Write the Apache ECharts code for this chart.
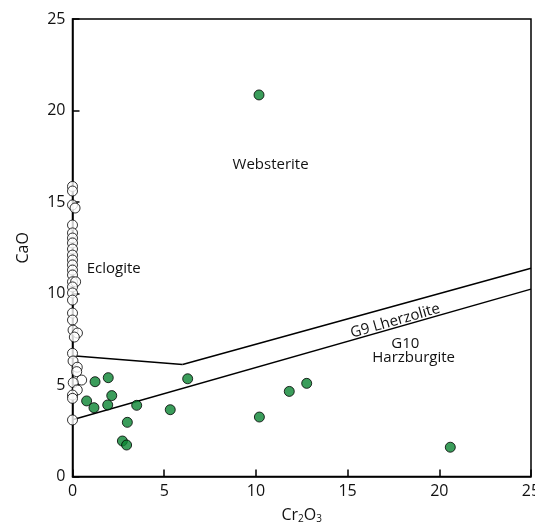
<!DOCTYPE html>
<html>
<head>
<meta charset="utf-8">
<script src="https://cdn.jsdelivr.net/npm/echarts@6/dist/echarts.min.js"></script>
<style>
  html, body { margin: 0; padding: 0; background: #fff; }
  #chart { width: 535px; height: 524px; }
</style>
</head>
<body>
<div id="chart"></div>
<script>
// eclogitic garnets (open circles): [Cr2O3, CaO]
const eclogite = [
  [0, 15.85], [0, 15.6], [0, 14.84], [0.14, 14.67], [0, 13.74], [0, 13.31],
  [0, 13.03], [0, 12.76], [0, 12.43], [0, 12.1], [0, 11.83], [0, 11.56],
  [0, 11.28], [0, 11.01], [0, 10.64], [0.17, 10.64], [0, 10.36], [0, 10.03],
  [0, 9.64], [0, 8.93], [0, 8.55], [0.03, 8.0], [0.27, 7.84], [0.1, 7.62],
  [0, 6.73], [0.03, 6.31], [0.26, 5.97], [0.23, 5.73], [0.5, 5.27], [0.04, 5.13],
  [0.26, 4.73], [0, 4.45], [0, 4.27], [0, 3.09]
]

// peridotitic garnets (green dots): [Cr2O3, CaO]
const peridotite = [
  [1.23, 5.18], [1.95, 5.4], [0.77, 4.13], [1.17, 3.76], [2.14, 4.42],
  [1.92, 3.91], [3.5, 3.89], [2.99, 2.96], [2.72, 1.94], [2.95, 1.72],
  [5.33, 3.65], [6.28, 5.34], [10.19, 3.25], [11.82, 4.65], [12.77, 5.09],
  [20.6, 1.6], [10.17, 20.85]
]

// field boundaries
const eclogiteLine = [[0, 6.6], [6, 6.12]]
const g9Line = [[6, 6.12], [25, 11.38]]
const g10Line = [[0, 3.1], [25, 10.24]]

const xTicks = [0, 5, 10, 15, 20, 25]
const yTicks = [0, 5, 10, 15, 20, 25]

const FONT = 'Open Sans'
const INK = '#111'
const chart = echarts.init(document.getElementById('chart'))

const boundary = (data) => ({
  type: 'line',
  data: data,
  symbol: 'none',
  silent: true,
  z: 1,
  lineStyle: { color: '#000', width: 1.5 },
})

chart.setOption({
  animation: false,
  grid: {
    left: 72.5, right: 4, top: 19, bottom: 47.5,
    outerBoundsMode: 'none',
    containLabel: false,
    show: true, borderColor: '#000', borderWidth: 1.5,
  },
  xAxis: {
    type: 'value',
    min: xTicks[0], max: xTicks[xTicks.length - 1], interval: 5,
    name: 'Cr{sub|2}O{sub|3}',
    nameLocation: 'middle',
    nameGap: 30,
    nameTextStyle: {
      fontFamily: FONT, fontSize: 16, color: INK,
      rich: { sub: { fontFamily: FONT, fontSize: 10, verticalAlign: 'bottom', padding: [8, 0, 0, 0], color: INK } },
    },
    splitLine: { show: false },
    axisLine: { lineStyle: { color: '#000', width: 1.5 } },
    axisTick: { inside: true, length: 7, lineStyle: { color: '#000', width: 1.5 } },
    axisLabel: { fontFamily: FONT, fontSize: 16, color: INK, margin: 7 },
  },
  yAxis: {
    type: 'value',
    min: yTicks[0], max: yTicks[yTicks.length - 1], interval: 5,
    name: 'CaO',
    nameLocation: 'middle',
    nameGap: 41,
    nameRotate: 90,
    nameTextStyle: { fontFamily: FONT, fontSize: 16, color: INK },
    splitLine: { show: false },
    axisLine: { lineStyle: { color: '#000', width: 1.5 } },
    axisTick: { inside: true, length: 7, lineStyle: { color: '#000', width: 1.5 } },
    axisLabel: { fontFamily: FONT, fontSize: 16, color: INK, margin: 7 },
  },
  series: [
    boundary(eclogiteLine),
    boundary(g9Line),
    boundary(g10Line),
    {
      type: 'scatter',
      data: eclogite,
      symbolSize: 10,
      clip: false,
      z: 3,
      itemStyle: { color: '#fff', borderColor: '#000', borderWidth: 1 },
    },
    {
      type: 'scatter',
      data: peridotite,
      symbolSize: 10,
      clip: false,
      z: 4,
      itemStyle: { color: '#0a8432', borderColor: '#000', borderWidth: 1 },
    },
  ],
})

// field labels placed in data coordinates
const fieldLabels = [
  { text: 'Websterite', at: [10.8, 17.05], rotation: 0 },
  { text: 'Eclogite', at: [2.25, 11.35], rotation: 0 },
  { text: 'G9 Lherzolite', at: [17.6, 8.5], rotation: 16 },
  { text: 'G10', at: [18.15, 7.25], rotation: 0 },
  { text: 'Harzburgite', at: [18.6, 6.5], rotation: 0 },
]

chart.setOption({
  graphic: fieldLabels.map((l) => {
    const p = chart.convertToPixel({ gridIndex: 0 }, l.at)
    return {
      type: 'text',
      x: p[0], y: p[1],
      rotation: l.rotation * Math.PI / 180,
      z: 10,
      style: {
        text: l.text,
        fontFamily: FONT, fontSize: 15, fill: INK,
        align: 'center', verticalAlign: 'middle',
      },
    }
  }),
})
</script>
</body>
</html>
